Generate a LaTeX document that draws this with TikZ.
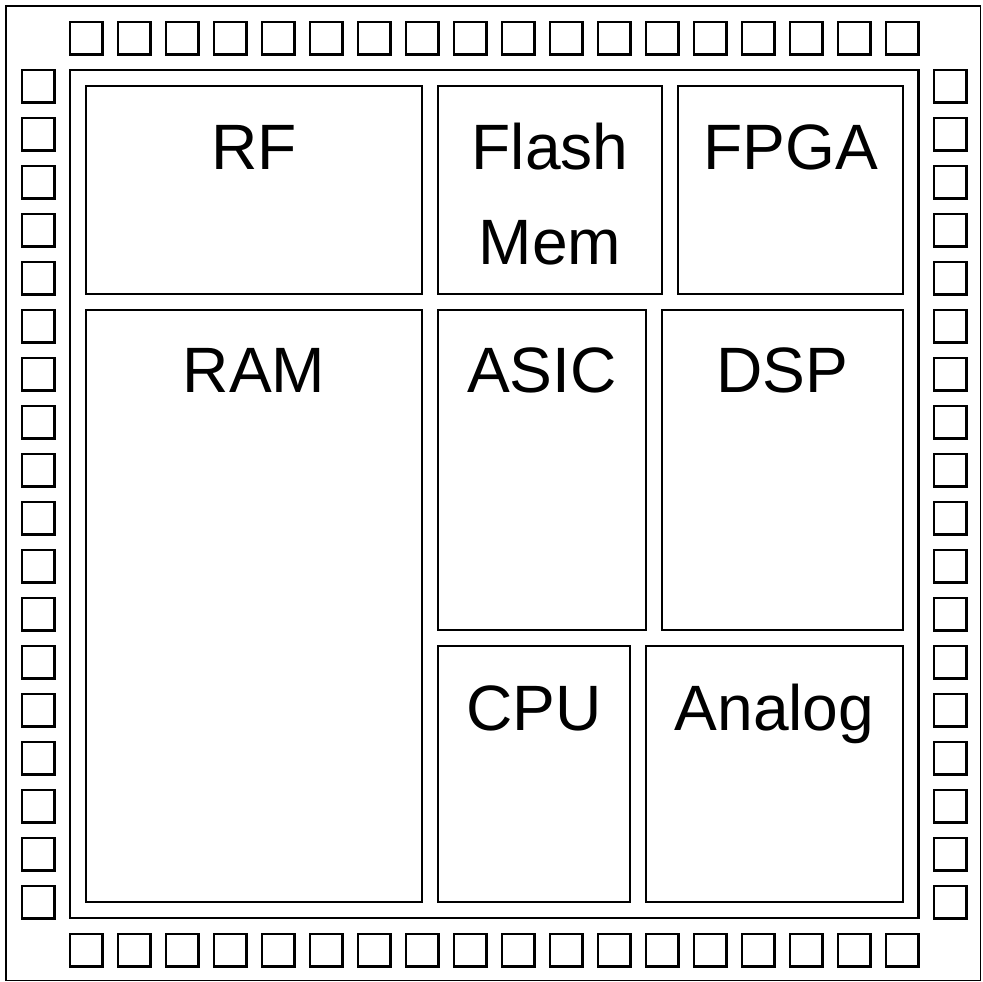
\documentclass[tikz,border=0pt]{standalone}
\usepackage{fontspec}
\setmainfont{Liberation Sans}
\usetikzlibrary{positioning}

\begin{document}
\begin{tikzpicture}[x=0.02cm,y=-0.02cm,
    pad/.style={draw=black,line width=1.6pt},
    block/.style={draw=black,line width=1.6pt},
    lbl/.style={anchor=base,inner sep=0pt,font=\fontsize{36.5}{42}\selectfont}]
    \useasboundingbox (0,0) rectangle (983,982);

    % Package outline and die frame
    \draw[line width=1.1pt] (6,6) rectangle (980.5,980.5);
    \draw[block] (70,70) rectangle (918.5,918);

    % Bond pads on the four sides
    \foreach \i in {0,...,17}{
        \draw[pad] ({70+48*\i},22) rectangle +(32.5,32.5);
        \draw[pad] ({70+48*\i},934) rectangle +(32.5,32.5);
        \draw[pad] (22,{70+48*\i}) rectangle +(32.5,32.5);
        \draw[pad] (934,{70+48*\i}) rectangle +(32.5,32.5);
    }

    % Functional blocks
    \draw[block] (86,86) rectangle (422,294);
    \draw[block] (438,86) rectangle (662,294);
    \draw[block] (678,86) rectangle (903,294);
    \draw[block] (86,310) rectangle (422,902);
    \draw[block] (438,310) rectangle (646,630);
    \draw[block] (662,310) rectangle (903,630);
    \draw[block] (438,646) rectangle (630,902);
    \draw[block] (646,646) rectangle (903,902);

    % Block names
    \node[lbl] (rf) at (254,170) {RF};
    \node[lbl] (flash) at (550,170) {Flash};
    \node[lbl] (mem) at (550,265) {Mem};
    \node[lbl] (fpga) at (790.5,170) {FPGA};
    \node[lbl] (ram) at (254,393) {RAM};
    \node[lbl] (asic) at (542,393) {ASIC};
    \node[lbl] (dsp) at (782.5,393) {DSP};
    \node[lbl] (cpu) at (534,730) {CPU};
    \node[lbl] (analog) at (774.5,730) {Analog};
\end{tikzpicture}
\end{document}
